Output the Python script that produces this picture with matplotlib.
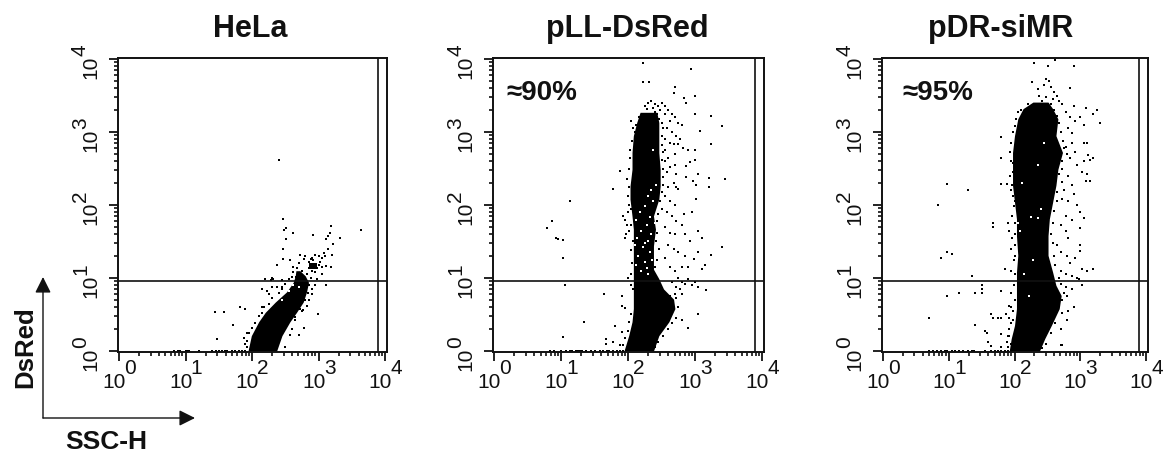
import numpy as np
import matplotlib
matplotlib.use('Agg')
import matplotlib.pyplot as plt

plt.rcParams['font.family'] = ['Liberation Sans', 'DejaVu Sans']

W, H = 1163, 452

titles = ['HeLa', 'pLL-DsRed', 'pDR-siMR']
notes = ['', '\u224890%', '\u224895%']
decades = [0, 1, 2, 3, 4]
gate_x = 10 ** 3.9
gate_y = 9.2

# dense part of each population, log10 units: level, left edge, right edge
hela_lev = [0, .21, .40, .53, .67, .81, .94, 1.03, 1.10]
hela_l = [1.94, 1.99, 2.10, 2.20, 2.35, 2.52, 2.62, 2.65, 2.66]
hela_r = [2.37, 2.45, 2.57, 2.67, 2.77, 2.82, 2.85, 2.80, 2.72]
pll_lev = [0, .21, .40, .58, .71, .85, .99, 1.12, 1.26, 1.44, 1.67, 1.85, 2.08, 2.26, 2.49, 2.72, 2.95, 3.13, 3.27]
pll_l = [1.94, 2.01, 2.06, 2.08, 2.08, 2.08, 2.08, 2.08, 2.08, 2.08, 2.08, 2.06, 2.03, 2.03, 2.06, 2.06, 2.08, 2.13, 2.18]
pll_r = [2.38, 2.46, 2.61, 2.70, 2.68, 2.53, 2.46, 2.38, 2.38, 2.38, 2.41, 2.38, 2.46, 2.48, 2.48, 2.46, 2.46, 2.46, 2.43]
pdr_lev = [0, .17, .35, .58, .76, .90, 1.08, 1.31, 1.58, 1.81, 2.04, 2.27, 2.49, 2.72, 2.95, 3.18, 3.32, 3.41]
pdr_l = [1.92, 1.95, 2.00, 2.03, 2.03, 2.03, 2.03, 2.05, 2.03, 2.03, 2.00, 1.97, 1.97, 1.97, 2.00, 2.05, 2.13, 2.28]
pdr_r = [2.38, 2.46, 2.56, 2.68, 2.71, 2.63, 2.58, 2.51, 2.51, 2.53, 2.58, 2.63, 2.66, 2.73, 2.63, 2.66, 2.58, 2.51]

# single events, log10 (x, y)
hela_pts = [(2.41, 2.61), (2.47, 1.81), (2.51, 1.69), (2.48, 1.66), (2.61, 1.62), (2.51, 1.53), (2.47, 1.40),
            (2.92, 1.59), (3.19, 1.71), (3.18, 1.62), (3.15, 1.58), (3.11, 1.54), (3.33, 1.55), (3.64, 1.66),
            (3.22, 1.47), (3.15, 1.40), (3.20, 1.32), (1.44, .53), (1.58, .53), (1.82, .60), (1.89, .57),
            (1.72, .35), (1.48, .16), (2.99, .50), (3.12, .91), (2.78, .31), (2.71, .22), (2.57, .22),
            (2.47, 1.26), (2.57, 1.25), (2.38, 1.18), (2.72, 1.32), (2.78, 1.26), (2.80, 1.30), (2.85, 1.22),
            (2.90, 1.28), (2.95, 1.32), (3.00, 1.30), (3.05, 1.28), (3.08, 1.34), (3.10, 1.30), (3.00, 1.18),
            (3.05, 1.15), (3.12, 1.17), (3.19, 1.15), (3.05, 1.05), (2.98, .98), (2.95, .90), (2.90, .85),
            (2.90, .78), (2.85, .70), (2.82, .62), (2.75, 1.10), (2.62, 1.15), (2.62, 1.08), (2.30, 1.00),
            (2.20, .98), (2.28, .97), (2.32, .98), (2.45, .97), (2.15, .85), (2.22, .82), (2.25, .78),
            (2.30, .87), (2.38, .88), (2.45, .88), (1.90, .10), (1.88, .18), (1.92, .25), (2.15, .60),
            (2.50, .05), (2.60, .30), (2.65, .42), (2.75, .55),
            (1.92, .05), (1.93, .14), (1.96, .25), (2.00, .32), (2.05, .38), (2.10, .48), (2.15, .52), (2.18, .60),
            (2.25, .65), (2.30, .72), (2.40, .80), (2.45, .85), (2.40, .12), (2.46, .30), (2.52, .36), (2.58, .48),
            (2.64, .46), (2.72, .58), (2.76, .56), (2.80, .70), (2.84, .80), (2.86, .90), (2.88, 1.00), (2.82, 1.05),
            (2.60, 1.02), (2.55, .98), (2.50, .92), (2.68, 1.14), (2.70, 1.20), (2.66, 1.02), (2.86, 1.14),
            (2.90, 1.10), (2.94, 1.08), (2.98, 1.14), (3.02, 1.22), (2.88, 1.26), (2.92, 1.24)]
hela_floor = [.82, .88, .92, 1.00, 1.03, 1.06, 1.20, 1.40, 1.46, 1.50, 1.55, 1.60, 1.63, 1.70, 1.75, 1.80, 1.85, 1.90]
pll_pts = [(2.22, 3.95), (2.94, 3.87), (2.22, 3.68), (2.32, 3.68), (2.70, 3.61), (2.68, 3.54), (3.00, 3.49),
           (2.83, 3.46), (2.86, 3.40), (3.00, 3.24), (3.24, 3.22), (3.41, 3.08), (3.07, 3.02), (3.24, 2.83),
           (3.00, 2.75), (2.90, 2.75), (3.00, 2.61), (2.93, 2.59), (2.86, 2.53), (3.04, 2.43), (2.87, 2.38),
           (2.97, 2.33), (3.21, 2.37), (3.45, 2.35), (3.21, 2.24), (3.01, 2.27), (3.01, 2.08), (2.95, 1.90),
           (2.83, 1.88), (3.04, 1.65), (3.10, 1.55), (3.41, 1.43), (3.24, 1.31), (3.05, 1.35), (2.98, 1.26),
           (3.15, 1.18), (3.11, 1.13), (3.17, .84), (3.04, .50), (2.90, .31), (2.80, .43),
           (1.77, 2.22), (1.88, 2.46), (1.13, 2.05), (.86, 1.78), (.79, 1.69), (.93, 1.55), (.96, 1.54),
           (1.03, 1.52), (1.03, 1.28), (1.06, .90), (1.64, .78), (1.34, .40), (1.03, .19), (1.91, .75),
           (1.91, .62), (1.95, .59), (1.81, .34), (1.67, .16), (1.67, .10), (1.77, .12), (1.91, .26), (1.88, .08),
           (2.30, 3.40), (2.35, 3.42), (2.40, 3.38), (2.45, 3.36), (2.50, 3.40), (2.55, 3.35), (2.60, 3.30),
           (2.25, 3.35), (2.28, 3.32), (2.38, 3.33), (2.48, 3.30), (2.55, 3.25), (2.65, 3.25), (2.70, 3.20),
           (2.75, 3.12), (2.80, 3.10), (2.62, 3.15), (2.58, 3.05), (2.65, 3.00), (2.72, 2.95), (2.78, 2.90),
           (2.62, 2.85), (2.68, 2.83), (2.75, 2.83), (2.82, 2.78), (2.55, 2.75), (2.60, 2.65), (2.70, 2.70),
           (2.52, 2.50), (2.58, 2.45), (2.62, 2.52), (2.70, 2.55), (2.72, 2.42), (2.52, 2.28), (2.60, 2.25),
           (2.68, 2.30), (2.72, 2.25), (2.75, 2.22), (2.55, 2.12), (2.62, 2.05), (2.70, 2.00), (2.50, 1.95),
           (2.58, 1.90), (2.65, 1.85), (2.72, 1.78), (2.80, 1.72), (2.55, 1.70), (2.62, 1.62), (2.70, 1.60),
           (2.85, 1.60), (2.92, 1.50), (2.60, 1.45), (2.68, 1.40), (2.75, 1.35), (2.85, 1.30), (2.90, 1.15),
           (2.55, 1.28), (2.62, 1.15), (2.70, 1.10), (2.80, 1.15), (1.93, 1.85), (1.96, 1.80), (1.98, 1.72),
           (2.00, 1.90), (2.02, 1.65), (1.97, 1.60), (1.95, 1.55), (2.03, 2.75), (2.02, 2.50), (1.98, 2.35),
           (2.05, 3.15), (2.07, 3.05), (2.00, 1.00), (2.05, .90), (2.08, .85), (2.75, 1.00), (2.80, .95),
           (2.85, .92), (2.90, .98), (2.95, .90), (3.00, .95), (3.05, .88), (2.72, .88), (2.65, .95),
           (2.78, .85), (2.62, .75), (2.72, .72), (2.80, .78),
           # rough rim of the dense band
           (2.40, 3.28), (2.44, 3.24), (2.47, 3.18), (2.50, 3.12), (2.52, 3.05), (2.50, 2.95), (2.55, 2.90),
           (2.50, 2.82), (2.52, 2.72), (2.55, 2.60), (2.50, 2.62), (2.52, 2.38), (2.50, 2.18), (2.48, 2.05),
           (2.45, 1.88), (2.43, 1.78), (2.44, 1.62), (2.42, 1.50), (2.46, 1.40), (2.44, 1.25), (2.40, 1.15),
           (2.16, 3.20), (2.12, 3.10), (2.10, 3.00), (2.06, 2.88), (2.03, 2.65), (2.01, 2.25), (2.00, 2.12),
           (2.02, 2.00), (2.05, 1.95), (2.05, 1.72), (2.07, 1.50), (2.05, 1.38), (2.06, 1.20), (2.05, 1.05),
           (2.72, .45), (2.66, .38), (2.60, .30), (2.52, .20), (2.45, .12), (2.40, .05), (2.74, .60), (2.70, .78),
           (2.00, .28), (1.96, .18), (1.93, .08), (2.02, .40), (2.05, .50)]
pll_floor = [.84, .90, 1.00, 1.08, 1.13, 1.17, 1.22, 1.25, 1.28, 1.32, 1.38, 1.45, 1.50, 1.58, 1.62, 1.68, 1.72, 1.78, 1.83, 1.88, 1.92]
pdr_pts = [(2.30, 3.95), (2.51, 3.90), (2.90, 3.90), (2.62, 3.99), (2.27, 3.68), (2.35, 3.59), (2.38, 3.50),
           (2.45, 3.65), (2.48, 3.72), (2.52, 3.70), (2.55, 3.62), (2.60, 3.55), (2.85, 3.60), (2.65, 3.50),
           (2.42, 3.42), (2.48, 3.48), (2.58, 3.45), (2.68, 3.42), (2.72, 3.38), (2.78, 3.28), (2.90, 3.35),
           (3.08, 3.33), (3.25, 3.30), (3.19, 3.25), (3.00, 3.20), (2.85, 3.20), (2.92, 3.15), (3.30, 3.13),
           (3.05, 3.10), (2.82, 3.05), (2.88, 2.98), (3.05, 2.85), (3.10, 2.85), (2.88, 2.85), (2.75, 2.78),
           (2.80, 2.70), (2.92, 2.72), (3.12, 2.68), (3.15, 2.62), (3.05, 2.60), (3.20, 2.65), (2.85, 2.65),
           (2.95, 2.55), (3.02, 2.45), (3.10, 2.42), (3.08, 2.33), (3.15, 2.33), (2.82, 2.40), (2.88, 2.28),
           (2.75, 2.20), (2.90, 2.15), (2.72, 2.08), (2.82, 2.05), (2.95, 2.00), (3.00, 1.90), (3.05, 1.82),
           (2.88, 1.80), (2.78, 1.85), (2.70, 1.72), (2.78, 1.65), (2.82, 1.55), (3.00, 1.68), (3.00, 1.45),
           (3.00, 1.37), (2.65, 1.45), (2.70, 1.35), (2.80, 1.30), (2.92, 1.27), (2.85, 1.20), (3.02, 1.12),
           (3.10, 1.10), (3.19, 1.12), (2.70, 1.10), (2.78, 1.05), (2.88, 1.03), (2.95, 1.00), (2.98, .98),
           (3.02, .90), (2.70, .92), (2.78, .88), (2.88, .85), (2.80, .75), (2.72, .70), (2.90, .60),
           (2.82, .55), (2.80, .43), (2.70, .30), (2.72, .08), (1.80, 2.93), (1.79, 2.64), (1.98, 2.58),
           (1.80, 2.29), (1.89, 2.29), (1.98, 2.45), (1.95, 2.20), (2.00, 2.05), (1.96, 1.85), (1.90, 1.75),
           (1.96, 1.55), (1.92, 1.65), (1.95, 1.40), (2.00, 1.30), (1.85, 1.12), (1.95, 1.10), (1.68, 1.70),
           (1.68, 1.75), (.98, 2.29), (1.29, 2.20), (.84, 2.00), (.88, 1.28), (.98, 1.36), (1.05, 1.33),
           (1.36, 1.03), (.98, .76), (1.15, .79), (1.40, .79), (1.50, .79), (1.50, .85), (1.50, .90),
           (1.80, .82), (1.95, .80), (.70, .45), (1.40, .35), (1.65, .50), (1.68, .45), (1.75, .45), (1.80, .45),
           (1.87, .50), (1.92, .45), (1.95, .60), (1.92, .62), (1.98, .55), (1.95, .38), (1.55, .28), (1.58, .25),
           (1.79, .23), (1.92, .20), (1.60, .12), (1.65, .07), (1.80, .05), (1.95, .10), (2.70, .08),
           # rough rim of the dense band
           (2.55, 3.38), (2.60, 3.30), (2.64, 3.22), (2.68, 3.12), (2.70, 3.00), (2.74, 2.88), (2.78, 2.80),
           (2.72, 2.60), (2.72, 2.50), (2.68, 2.42), (2.72, 2.32), (2.65, 2.18), (2.64, 2.05), (2.60, 1.92),
           (2.58, 1.75), (2.56, 1.60), (2.58, 1.48), (2.60, 1.30), (2.62, 1.18), (2.68, 1.00), (2.75, .80),
           (2.72, .52), (2.62, .38), (2.55, .25), (2.48, .10), (2.42, .04),
           (2.20, 3.38), (2.10, 3.30), (2.05, 3.28), (2.03, 3.18), (2.00, 3.08), (1.97, 3.00), (1.94, 2.85),
           (1.93, 2.72), (1.94, 2.60), (1.93, 2.40), (1.96, 2.28), (1.97, 2.12), (1.99, 1.98), (2.00, 1.75),
           (2.01, 1.60), (2.00, 1.45), (1.99, 1.25), (2.00, 1.05), (1.99, .90), (2.00, .70), (1.97, .42),
           (1.92, .30), (1.90, .20), (1.88, .12), (1.90, .05)]
pdr_floor = [.70, .76, .82, .88, .95, .98, 1.05, 1.10, 1.15, 1.22, 1.30, 1.35, 1.38, 1.55, 1.65, 1.70, 1.75, 1.80, 1.85, 1.90, 1.95]

# gaps inside the loose part of the populations
pll_holes = [(2.30, 1.05), (2.20, 1.10), (2.25, 1.22), (2.15, 1.30), (2.33, 1.35), (2.22, 1.42), (2.30, 1.50),
             (2.14, 1.55), (2.35, 1.60), (2.20, 1.65), (2.28, 1.72), (2.12, 1.80), (2.33, 1.84), (2.18, 1.90),
             (2.25, 1.98), (2.38, 2.05), (2.30, 2.12), (2.34, 2.20), (2.42, 2.28), (2.38, 2.75), (2.25, 1.48),
             (2.36, 1.25), (2.12, 1.18), (2.28, 1.14), (2.40, 1.75), (2.10, 1.45)]
pdr_holes = [(2.45, 2.85), (2.40, 1.95), (2.35, 1.82), (2.25, 1.83), (2.05, 1.75), (2.08, 1.65), (2.28, 1.25),
             (2.15, 1.05), (2.22, .75), (2.35, 2.55), (2.12, 2.30)]
hela_holes = [(2.38, .75), (2.45, .70), (2.55, .82), (2.62, .90), (2.70, .88), (2.52, .95)]

panels = [
    dict(px=(118, 387), x0=119, x1=385, title_x=250, lev=hela_lev, l=hela_l, r=hela_r, pts=hela_pts, floor=hela_floor, holes=hela_holes),
    dict(px=(493, 764), x0=494, x1=762, title_x=627, lev=pll_lev, l=pll_l, r=pll_r, pts=pll_pts, floor=pll_floor, holes=pll_holes),
    dict(px=(882, 1148), x0=883, x1=1146, title_x=1001, lev=pdr_lev, l=pdr_l, r=pdr_r, pts=pdr_pts, floor=pdr_floor, holes=pdr_holes),
]

fig = plt.figure(figsize=(W / 100, H / 100), dpi=100)
ink = '#111111'

for i, p in enumerate(panels):
    left, right = p['px']
    top, bottom = 59, 353
    ax = fig.add_axes([left / W, 1 - bottom / H, (right - left) / W, (bottom - top) / H])
    ax.set_xscale('log')
    ax.set_yscale('log')
    per_dec = (p['x1'] - p['x0']) / 4
    ax.set_xlim(10 ** (-(p['x0'] - left) / per_dec), 10 ** (4 + (right - p['x1']) / per_dec))
    ax.set_ylim(10 ** -0.014, 10 ** 4.014)

    lev = 10 ** np.array(p['lev'])
    ax.fill_betweenx(lev, 10 ** np.array(p['l']), 10 ** np.array(p['r']), color='black', lw=0)
    if i == 0:
        # small dense clump above the gate
        ax.fill_between(10 ** np.array([2.86, 2.98]), 10 ** 1.12, 10 ** 1.20, color='black', lw=0)

    xy = np.array(p['pts'])
    ax.scatter(10 ** xy[:, 0], 10 ** xy[:, 1], s=3.2, marker='s', color='black', lw=0)
    fl = np.array(p['floor'])
    ax.scatter(10 ** fl, np.ones(len(fl)), s=4, marker='s', color='black', lw=0, clip_on=False)
    hl = np.array(p['holes'])
    ax.scatter(10 ** hl[:, 0], 10 ** hl[:, 1], s=2.2, marker='s', color='white', lw=0)

    ax.axhline(gate_y, color=ink, lw=1.2)
    ax.axvline(gate_x, color=ink, lw=1.2)

    for s in ax.spines.values():
        s.set_linewidth(1.4)
        s.set_color(ink)
    ax.set_xticks([10.0 ** d for d in decades])
    ax.set_yticks([10.0 ** d for d in decades])
    ax.set_xticklabels([])
    ax.set_yticklabels([])
    ax.xaxis.set_minor_locator(matplotlib.ticker.LogLocator(10, subs=range(2, 10), numticks=8))
    ax.yaxis.set_minor_locator(matplotlib.ticker.LogLocator(10, subs=range(2, 10), numticks=8))
    ax.xaxis.set_minor_formatter(matplotlib.ticker.NullFormatter())
    ax.yaxis.set_minor_formatter(matplotlib.ticker.NullFormatter())
    ax.tick_params(which='major', length=6.5, width=1.3, color=ink, direction='out')
    ax.tick_params(which='minor', length=3.2, width=1.2, color=ink, direction='out')

    # decade labels, tens and raised exponent as separate texts like the original
    for d in decades:
        ax.annotate('10', xy=(10.0 ** d, ax.get_ylim()[0]), xycoords='data', xytext=(-3.5, -21),
                    textcoords='offset points', ha='center', va='center', fontsize=15, color=ink, annotation_clip=False)
        ax.annotate(str(d), xy=(10.0 ** d, ax.get_ylim()[0]), xycoords='data', xytext=(8, -11),
                    textcoords='offset points', ha='center', va='center', fontsize=15, color=ink, annotation_clip=False)
        ax.annotate('10', xy=(ax.get_xlim()[0], 10.0 ** d), xycoords='data', xytext=(-19.5, -5),
                    textcoords='offset points', ha='center', va='center', rotation=90, fontsize=15, color=ink,
                    annotation_clip=False)
        ax.annotate(str(d), xy=(ax.get_xlim()[0], 10.0 ** d), xycoords='data', xytext=(-27, 7),
                    textcoords='offset points', ha='center', va='center', rotation=90, fontsize=15, color=ink,
                    annotation_clip=False)

    fig.text(p['title_x'] / W, 1 - 29 / H, titles[i], ha='center', va='center',
             fontsize=22, fontweight='bold', color=ink)
    if notes[i]:
        ax.text(0.05 if i == 1 else 0.075, 0.884, notes[i], transform=ax.transAxes, ha='left', va='center',
                fontsize=20, fontweight='bold', color=ink)

# axis key, bottom left
corner = (43 / W, 1 - 419 / H)
arrow = dict(arrowstyle='-|>,head_length=0.6,head_width=0.3', color=ink, lw=1.0, shrinkA=0, shrinkB=0)
fig.add_artist(matplotlib.patches.FancyArrowPatch(corner, (43 / W, 1 - 278 / H), transform=fig.transFigure,
                                                  mutation_scale=16, **arrow))
fig.add_artist(matplotlib.patches.FancyArrowPatch(corner, (195 / W, 1 - 419 / H), transform=fig.transFigure,
                                                  mutation_scale=16, **arrow))
fig.text(25 / W, 1 - 347 / H, 'DsRed', rotation=90, ha='center', va='center', fontsize=18.5, fontweight='bold', color=ink)
fig.text(106 / W, 1 - 442 / H, 'SSC-H', ha='center', va='center', fontsize=19, fontweight='bold', color=ink)

fig.savefig('out.png', dpi=100)
